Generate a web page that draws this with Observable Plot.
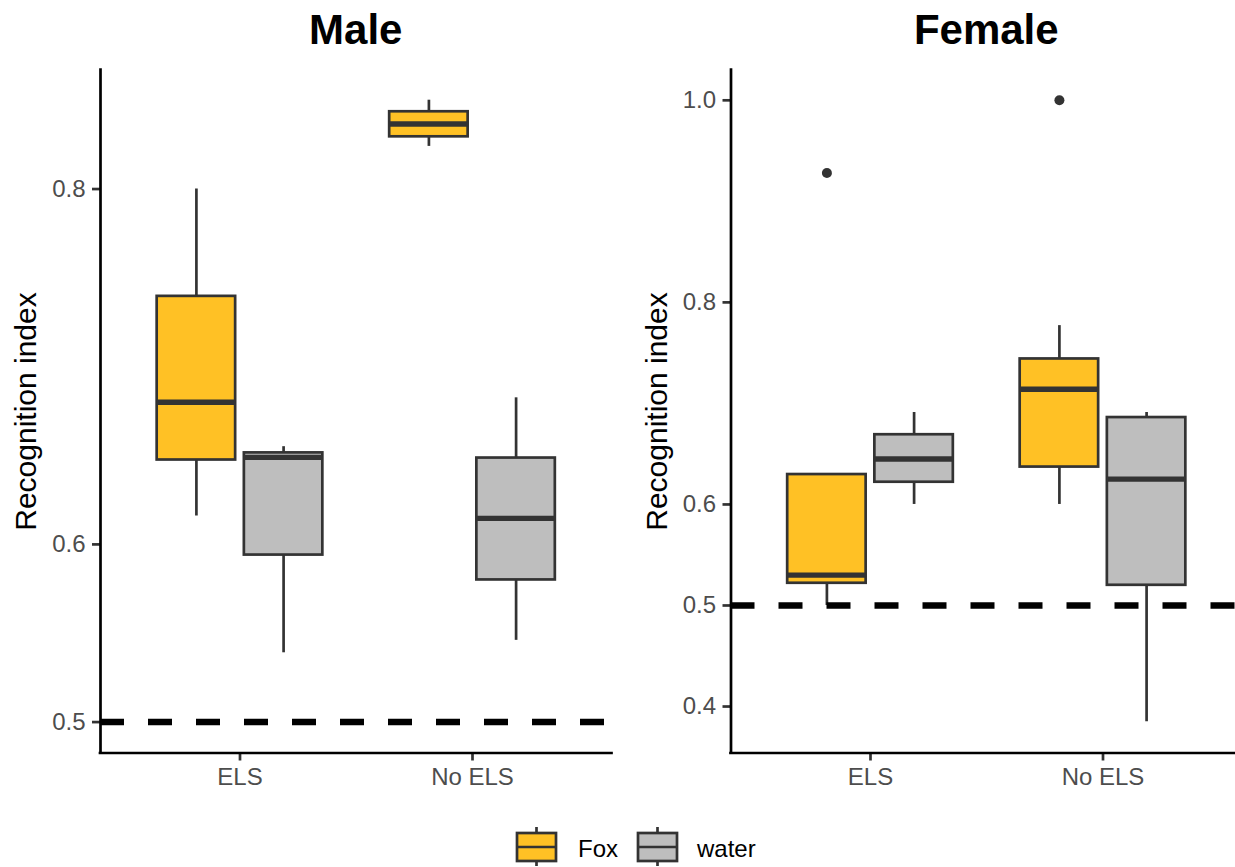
<!DOCTYPE html>
<html><head><meta charset="utf-8">
<script src="https://cdn.jsdelivr.net/npm/d3@7"></script>
<script src="https://cdn.jsdelivr.net/npm/@observablehq/plot@0.6"></script>
<style>
html,body{margin:0;padding:0;background:#fff;}
#root{position:relative;width:1235px;height:867px;overflow:hidden;font-family:"Liberation Sans",Arial,sans-serif;background:#fff;}
.title{position:absolute;top:9px;width:400px;font-weight:bold;font-size:42px;line-height:42px;text-align:center;color:#000;}
.panel{position:absolute;top:55px;}
.legend{position:absolute;left:0;top:0;}
</style></head><body><div id="root"></div>
<script>
// ---- data ----
const panelNames = ["Male", "Female"];
const conditions = ["ELS", "No ELS"];
const treatments = ["Fox", "water"];
const treatmentColors = ["#FFC125", "#BEBEBE"];
const yLabel = "Recognition index";
const yTicks = [0.4, 0.5, 0.6, 0.8, 1.0];
const chanceLevel = 0.5;
// box summaries: [condition, treatment, whiskerLow, q1, median, q3, whiskerHigh]
const maleStats = [
  ["ELS", "Fox", 0.616, 0.6475, 0.680, 0.7396, 0.800],
  ["ELS", "water", 0.539, 0.594, 0.649, 0.6515, 0.655],
  ["No ELS", "Fox", 0.824, 0.8294, 0.8366, 0.8435, 0.850],
  ["No ELS", "water", 0.546, 0.580, 0.6146, 0.6486, 0.6825]
];
const femaleStats = [
  ["ELS", "Fox", 0.500, 0.522, 0.530, 0.6296, 0.6296],
  ["ELS", "water", 0.600, 0.622, 0.645, 0.669, 0.691],
  ["No ELS", "Fox", 0.600, 0.637, 0.714, 0.744, 0.777],
  ["No ELS", "water", 0.385, 0.520, 0.625, 0.686, 0.691]
];
// outliers: [condition, treatment, value]
const maleOutliers = [];
const femaleOutliers = [["ELS", "Fox", 0.928], ["No ELS", "Fox", 1.0]];
const maleYDomain = [0.4826, 0.867];
const femaleYDomain = [0.354, 1.030];

// ---- layout / style ----
const dodge = 0.375, boxHalf = 0.16875;
const ink = "#333333";
const font = "'Liberation Sans', Arial, sans-serif";
const root = document.getElementById("root");

function xCenter(condition, treatment) {
  return conditions.indexOf(condition) + 1 + (treatments.indexOf(treatment) - 0.5) * dodge;
}

function makePanel(stats, outliers, yDomain, opts) {
  const rows = stats.map(([condition, treatment, lo, q1, med, q3, hi]) => {
    const xc = xCenter(condition, treatment);
    return {condition, treatment, lo, q1, med, q3, hi, xc, x1: xc - boxHalf, x2: xc + boxHalf};
  });
  const outs = outliers.map(([condition, treatment, value]) => ({condition, treatment, value, xc: xCenter(condition, treatment)}));
  const ticks = yTicks.filter(t => t >= yDomain[0] && t <= yDomain[1]);
  return Plot.plot({
    width: opts.width,
    height: 745,
    marginLeft: opts.marginLeft,
    marginRight: opts.marginRight,
    marginTop: 14.5,
    marginBottom: 47.5,
    style: {fontFamily: font, background: "white", overflow: "visible"},
    x: {type: "linear", domain: [0.4, 2.6]},
    y: {type: "linear", domain: yDomain},
    color: {domain: treatments, range: treatmentColors},
    marks: [
      Plot.axisX({ticks: [1, 2], tickFormat: d => conditions[d - 1], tickSize: 8, tickPadding: 7,
        fontSize: 24, fill: "#4D4D4D", stroke: ink, strokeWidth: 2.7, label: null}),
      Plot.axisY({ticks, tickFormat: d3.format(".1f"), tickSize: 8, tickPadding: 7,
        fontSize: 24, fill: "#4D4D4D", stroke: ink, strokeWidth: 2.7, label: null}),
      Plot.ruleX([0.4], {stroke: "#000", strokeWidth: 2.7, strokeLinecap: "square"}),
      Plot.ruleY([yDomain[0]], {stroke: "#000", strokeWidth: 2.7, strokeLinecap: "square"}),
      Plot.ruleX(rows, {x: "xc", y1: "lo", y2: "hi", stroke: ink, strokeWidth: 2.7}),
      Plot.rect(rows, {x1: "x1", x2: "x2", y1: "q1", y2: "q3", fill: "treatment", stroke: ink, strokeWidth: 2.7}),
      Plot.ruleY(rows, {y: "med", x1: "x1", x2: "x2", stroke: ink, strokeWidth: 5.3}),
      Plot.dot(outs, {x: "xc", y: "value", r: 5, fill: ink, stroke: null}),
      Plot.ruleY([chanceLevel], {stroke: "#000", strokeWidth: 6.5, strokeDasharray: "24,24"}),
      Plot.text([yLabel], {text: d => d, frameAnchor: "left", textAnchor: "middle", rotate: -90, dx: -74, lineAnchor: "middle",
        fontSize: 30, fill: "#000"})
    ]
  });
}

const panelSpecs = [
  {name: panelNames[0], stats: maleStats, outliers: maleOutliers, yDomain: maleYDomain, left: 0, width: 615, marginLeft: 100, marginRight: 3.5},
  {name: panelNames[1], stats: femaleStats, outliers: femaleOutliers, yDomain: femaleYDomain, left: 615, width: 628, marginLeft: 115.5, marginRight: 1}
];

for (const p of panelSpecs) {
  const chart = makePanel(p.stats, p.outliers, p.yDomain, p);
  chart.classList.add("panel");
  chart.style.left = p.left + "px";
  root.appendChild(chart);
  const center = p.left + p.marginLeft + (p.width - p.marginLeft - p.marginRight) / 2;
  const t = document.createElement("div");
  t.className = "title";
  t.textContent = p.name;
  t.style.left = (center - 200) + "px";
  root.appendChild(t);
}

// ---- legend ----
const legend = d3.create("svg").attr("class", "legend").attr("width", 1235).attr("height", 867)
  .style("pointer-events", "none");
const keyX = [517, 638], textX = [578, 697];
treatments.forEach((tr, i) => {
  const g = legend.append("g");
  const cx = keyX[i] + 19.5;
  g.append("line").attr("x1", cx).attr("x2", cx).attr("y1", 827).attr("y2", 866).attr("stroke", ink).attr("stroke-width", 2.7);
  g.append("rect").attr("x", keyX[i]).attr("y", 833).attr("width", 39).attr("height", 28)
    .attr("fill", treatmentColors[i]).attr("stroke", ink).attr("stroke-width", 2.7);
  g.append("line").attr("x1", keyX[i]).attr("x2", keyX[i] + 39).attr("y1", 847).attr("y2", 847).attr("stroke", ink).attr("stroke-width", 2.7);
  g.append("text").attr("x", textX[i]).attr("y", 857).attr("font-size", 24).attr("font-family", font).attr("fill", "#000").text(tr);
});
root.appendChild(legend.node());
</script></body></html>
